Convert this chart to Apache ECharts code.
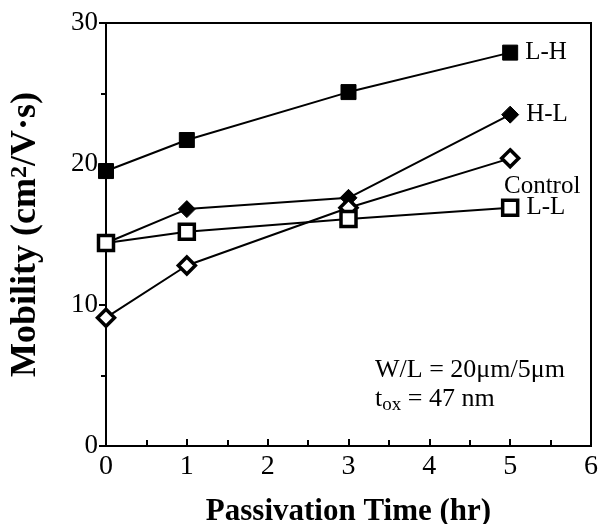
<!DOCTYPE html>
<html>
<head>
<meta charset="utf-8">
<title>Mobility vs passivation time</title>
<script src="https://cdn.jsdelivr.net/npm/echarts@6/dist/echarts.min.js"></script>
<style>
  body { margin: 0; background: #fff; }
  #main { width: 602px; height: 524px; }
</style>
</head>
<body>
<div id="main"></div>
<script>
// passivation time (hr)
var hours = [0, 1, 3, 5];
// mobility values
var lhData = [19.5, 21.7, 25.1, 27.9];
var hlData = [14.4, 16.8, 17.6, 23.5];
var controlData = [9.1, 12.8, 16.9, 20.4];
var llData = [14.4, 15.2, 16.1, 16.9];
var seriesNames = ['L-H', 'H-L', 'Control', 'L-L'];

var font = 'Liberation Serif';

function pts(vals) {
  return hours.map(function (h, i) { return [h, vals[i]]; });
}

// label only on the last point
function withEndLabel(vals, name, pos, off) {
  var d = pts(vals);
  d[d.length - 1] = {
    value: d[d.length - 1],
    label: { show: true, formatter: name, position: pos, offset: off,
      fontFamily: font, fontSize: 25, color: '#000' }
  };
  return d;
}

function makeSeries(name, data, symbol, filled) {
  return {
    name: name, type: 'line', data: data,
    symbol: symbol, symbolSize: symbol == 'diamond' ? 17 : 15,
    lineStyle: { color: '#000', width: 2 },
    itemStyle: { color: filled ? '#000' : '#fff', borderColor: '#000', borderWidth: filled ? 1 : 3.5 },
    emphasis: { disabled: true },
    animation: false
  };
}

var myChart = echarts.init(document.getElementById('main'));
var option = {
  backgroundColor: '#fff',
  grid: { left: 106, right: 11, top: 23, bottom: 78, outerBoundsMode: 'none', containLabel: false,
    show: true, borderColor: '#000', borderWidth: 2 },
  xAxis: {
    type: 'value', min: 0, max: 6, interval: 1,
    axisLine: { lineStyle: { color: '#000', width: 2 } },
    axisTick: { inside: true, length: 7, lineStyle: { color: '#000', width: 2 } },
    minorTick: { show: true, splitNumber: 2, length: 6, lineStyle: { color: '#000', width: 2 } },
    splitLine: { show: false },
    axisLabel: { fontFamily: font, fontSize: 28, color: '#000', margin: 7 },
    name: 'Passivation Time (hr)', nameLocation: 'middle', nameGap: 50,
    nameTextStyle: { fontFamily: font, fontSize: 31, fontWeight: 'bold', color: '#000' }
  },
  yAxis: {
    type: 'value', min: 0, max: 30, interval: 10,
    axisLine: { lineStyle: { color: '#000', width: 2 } },
    axisTick: { inside: false, length: 7, lineStyle: { color: '#000', width: 2 } },
    minorTick: { show: true, splitNumber: 2, length: 5, lineStyle: { color: '#000', width: 2 } },
    splitLine: { show: false },
    axisLabel: { fontFamily: font, fontSize: 27, color: '#000', margin: 8 },
    name: '{t|Mobility (cm}{s|2}{t|/V·s)}', nameLocation: 'middle', nameGap: 62,
    nameTextStyle: {
      rich: {
        t: { fontFamily: font, fontSize: 36, fontWeight: 'bold', color: '#000' },
        s: { fontFamily: font, fontSize: 24, fontWeight: 'bold', color: '#000', verticalAlign: 'top', padding: [0, 0, 12, 0] }
      }
    }
  },
  series: [
    makeSeries(seriesNames[0], withEndLabel(lhData, seriesNames[0], 'right', [2, 0]), 'rect', true),
    makeSeries(seriesNames[1], withEndLabel(hlData, seriesNames[1], 'right', [2, 0]), 'diamond', true),
    makeSeries(seriesNames[2], withEndLabel(controlData, seriesNames[2], 'bottom', [32, 0]), 'diamond', false),
    makeSeries(seriesNames[3], withEndLabel(llData, seriesNames[3], 'right', [2, 0]), 'rect', false)
  ],
  graphic: [
    {
      type: 'text', left: 375, top: 357,
      style: { text: 'W/L = 20μm/5μm', font: '26px "Liberation Serif"', fill: '#000' }
    },
    {
      type: 'text', left: 375, top: 386,
      style: {
        text: '{a|t}{b|ox}{a| = 47 nm}',
        rich: {
          a: { fontFamily: font, fontSize: 26, color: '#000' },
          b: { fontFamily: font, fontSize: 19, color: '#000', verticalAlign: 'bottom', padding: [12, 0, 0, 0] }
        }
      }
    }
  ]
};
myChart.setOption(option);
</script>
</body>
</html>
